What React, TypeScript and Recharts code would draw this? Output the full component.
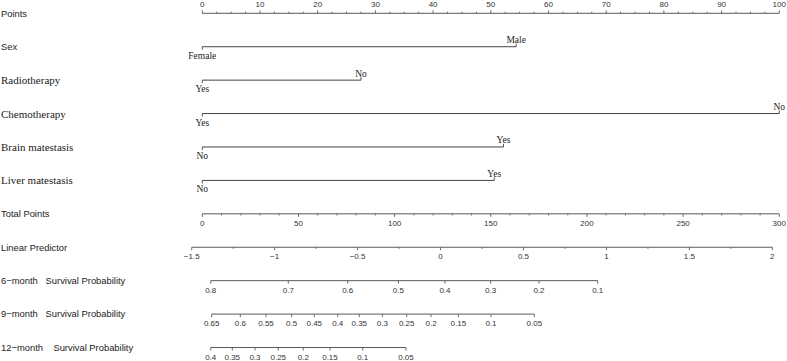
import React from "react";
import { ComposedChart, XAxis, YAxis, Scatter, ReferenceLine } from "recharts";

const W = 787;
const H = 361;
const SANS = "'Liberation Sans', Arial, sans-serif";
const SERIF = "'Liberation Serif', 'Times New Roman', serif";
const AXIS = "#5a5a5a";
const CAT = "#444";
const TXT = "#333";

// row names, top to bottom
const rowNames = [
  "Points",
  "Sex",
  "Radiotherapy",
  "Chemotherapy",
  "Brain matestasis",
  "Liver matestasis",
  "Total Points",
  "Linear Predictor",
  "6\u2212month   Survival Probability",
  "9\u2212month   Survival Probability",
  "12\u2212month    Survival Probability",
];
const serifRows = [2, 3, 4, 5];

// linear scales
const pointLabels = [0, 10, 20, 30, 40, 50, 60, 70, 80, 90, 100];
const totalLabels = [0, 50, 100, 150, 200, 250, 300];
const lpLabels = [-1.5, -1, -0.5, 0, 0.5, 1, 1.5, 2];

// categorical predictors: level names and their points
const sexLevels = ["Female", "Male"];
const sexPoints = [0, 54.4];
const radioLevels = ["Yes", "No"];
const radioPoints = [0, 27.5];
const chemoLevels = ["Yes", "No"];
const chemoPoints = [0, 100];
const brainLevels = ["No", "Yes"];
const brainPoints = [0, 52.2];
const liverLevels = ["No", "Yes"];
const liverPoints = [0, 50.6];

// survival scales: tick labels and their position on the points scale
const surv6Labels = ["0.8", "0.7", "0.6", "0.5", "0.4", "0.3", "0.2", "0.1"];
const surv6Pos = [1.46, 14.9, 25.2, 33.99, 42.06, 49.98, 58.35, 68.53];
const surv9Labels = ["0.65", "0.6", "0.55", "0.5", "0.45", "0.4", "0.35", "0.3", "0.25", "0.2", "0.15", "0.1", "0.05"];
const surv9Pos = [1.63, 6.59, 11.04, 15.49, 19.41, 23.47, 27.21, 31.2, 35.42, 39.64, 44.37, 50.03, 57.54];
const surv12Labels = ["0.4", "0.35", "0.3", "0.25", "0.2", "0.15", "0.1", "0.05"];
const surv12Pos = [1.46, 5.2, 9.13, 13.17, 17.5, 22.13, 27.8, 35.3];

const fmt = (v: number) => (v < 0 ? "\u2212" + String(-v) : String(v));

function linearTicks(labels: number[], step: number, row: number) {
  const out: any[] = [];
  for (let i = 0; i < labels.length - 1; i++) {
    const a = labels[i];
    const b = labels[i + 1];
    for (let v = a; v < b - 1e-9; v += step) {
      const major = Math.abs(v - a) < 1e-9;
      out.push({ x: v, y: row, label: major ? fmt(v) : "", major });
    }
  }
  const last = labels[labels.length - 1];
  out.push({ x: last, y: row, label: fmt(last), major: true });
  return out;
}

const pointTicks = linearTicks(pointLabels, 2.5, 0);
const totalTicks = linearTicks(totalLabels, 10, 6);
const lpTicks = linearTicks(lpLabels, 0.25, 7);

const survTicks = (labels: string[], pos: number[], row: number) =>
  labels.map((l, i) => ({ x: pos[i], y: row, label: l, major: true }));
const surv6 = survTicks(surv6Labels, surv6Pos, 8);
const surv9 = survTicks(surv9Labels, surv9Pos, 9);
const surv12 = survTicks(surv12Labels, surv12Pos, 10);

const catRows = [
  { levels: sexLevels, pts: sexPoints, row: 1 },
  { levels: radioLevels, pts: radioPoints, row: 2 },
  { levels: chemoLevels, pts: chemoPoints, row: 3 },
  { levels: brainLevels, pts: brainPoints, row: 4 },
  { levels: liverLevels, pts: liverPoints, row: 5 },
];

const axisTick = (up: boolean) => (p: any) => {
  const { cx, cy, payload } = p;
  const len = payload.major ? 3 : 1.6;
  return (
    <g>
      <line x1={cx} x2={cx} y1={cy} y2={up ? cy - len : cy + len} stroke={AXIS} strokeWidth={0.9} />
      {payload.label && (
        <text x={cx} y={up ? cy - 6.8 : cy + 12} textAnchor="middle" fontSize={8} fill={TXT} fontFamily={SANS}>
          {payload.label}
        </text>
      )}
    </g>
  );
};

const catTick = (p: any) => {
  const { cx, cy, payload } = p;
  const up = payload.idx > 0;
  return (
    <g>
      <line x1={cx} x2={cx} y1={cy} y2={up ? cy - 3 : cy + 3} stroke={CAT} strokeWidth={0.9} />
      <text x={cx} y={up ? cy - 3.6 : cy + 12} textAnchor="middle" fontSize={9.5} fill="#222" fontFamily={SERIF}>
        {payload.label}
      </text>
    </g>
  );
};

const rowLabel = (p: any) => {
  const { cy, payload } = p;
  const i = payload.y as number;
  const serif = serifRows.includes(i);
  return (
    <text
      x={1}
      y={cy}
      dy={serif ? 4 : 3.3}
      textAnchor="start"
      fontSize={serif ? 11 : 9.4}
      fill="#222"
      fontFamily={serif ? SERIF : SANS}
      style={{ whiteSpace: "pre" }}
    >
      {rowNames[i]}
    </text>
  );
};

// pixel mapping for the shared points scale: 0 -> 202.3px, 100 -> 779.3px
const P0 = 202.3;
const PX = 5.77;
const ptsDomain = [-P0 / PX, (W - P0) / PX];
const totDomain = [(-P0 / PX) * 3, ((W - P0) / PX) * 3];
const LP0 = 191.7;
const LPX = 165.9;
const lpDomain = [-1.5 - LP0 / LPX, -1.5 + (W - LP0) / LPX];
const R0 = 13.3;
const RY = 33.42;
const rowDomain = [-R0 / RY, (H - R0) / RY];

const rowLabelData = rowNames.map((_, i) => ({ x: 0, y: i }));

export default function App() {
  return (
    <div style={{ position: "absolute", left: 0, top: 0, width: W, height: H, background: "#fff" }}>
      <ComposedChart width={W} height={H} margin={{ top: 0, right: 0, bottom: 0, left: 0 }}>
        <XAxis xAxisId="pts" dataKey="x" type="number" domain={ptsDomain} allowDataOverflow hide />
        <XAxis xAxisId="tot" dataKey="x" type="number" domain={totDomain} allowDataOverflow hide />
        <XAxis xAxisId="lp" dataKey="x" type="number" domain={lpDomain} allowDataOverflow hide />
        <YAxis yAxisId="row" dataKey="y" type="number" domain={rowDomain} allowDataOverflow reversed hide />

        {/* scale lines */}
        <ReferenceLine xAxisId="pts" yAxisId="row" stroke={AXIS} ifOverflow="visible"
          segment={[{ x: pointLabels[0], y: 0 }, { x: pointLabels[pointLabels.length - 1], y: 0 }]} />
        <ReferenceLine xAxisId="tot" yAxisId="row" stroke={AXIS} ifOverflow="visible"
          segment={[{ x: totalLabels[0], y: 6 }, { x: totalLabels[totalLabels.length - 1], y: 6 }]} />
        <ReferenceLine xAxisId="lp" yAxisId="row" stroke={AXIS} ifOverflow="visible"
          segment={[{ x: lpLabels[0], y: 7 }, { x: lpLabels[lpLabels.length - 1], y: 7 }]} />
        <ReferenceLine xAxisId="pts" yAxisId="row" stroke={AXIS} ifOverflow="visible"
          segment={[{ x: surv6Pos[0], y: 8 }, { x: surv6Pos[surv6Pos.length - 1], y: 8 }]} />
        <ReferenceLine xAxisId="pts" yAxisId="row" stroke={AXIS} ifOverflow="visible"
          segment={[{ x: surv9Pos[0], y: 9 }, { x: surv9Pos[surv9Pos.length - 1], y: 9 }]} />
        <ReferenceLine xAxisId="pts" yAxisId="row" stroke={AXIS} ifOverflow="visible"
          segment={[{ x: surv12Pos[0], y: 10 }, { x: surv12Pos[surv12Pos.length - 1], y: 10 }]} />
        {catRows.map((c) => (
          <ReferenceLine key={"cl" + c.row} xAxisId="pts" yAxisId="row" stroke={CAT} ifOverflow="visible"
            segment={[{ x: Math.min(...c.pts), y: c.row }, { x: Math.max(...c.pts), y: c.row }]} />
        ))}

        {/* ticks and labels */}
        <Scatter xAxisId="pts" yAxisId="row" data={rowLabelData} shape={rowLabel} isAnimationActive={false} />
        <Scatter xAxisId="pts" yAxisId="row" data={pointTicks} shape={axisTick(true)} isAnimationActive={false} />
        <Scatter xAxisId="tot" yAxisId="row" data={totalTicks} shape={axisTick(false)} isAnimationActive={false} />
        <Scatter xAxisId="lp" yAxisId="row" data={lpTicks} shape={axisTick(false)} isAnimationActive={false} />
        <Scatter xAxisId="pts" yAxisId="row" data={surv6} shape={axisTick(false)} isAnimationActive={false} />
        <Scatter xAxisId="pts" yAxisId="row" data={surv9} shape={axisTick(false)} isAnimationActive={false} />
        <Scatter xAxisId="pts" yAxisId="row" data={surv12} shape={axisTick(false)} isAnimationActive={false} />
        {catRows.map((c) => (
          <Scatter
            key={"cs" + c.row}
            xAxisId="pts"
            yAxisId="row"
            data={c.levels.map((l, i) => ({ x: c.pts[i], y: c.row, label: l, idx: i }))}
            shape={catTick}
            isAnimationActive={false}
          />
        ))}
      </ComposedChart>
    </div>
  );
}
